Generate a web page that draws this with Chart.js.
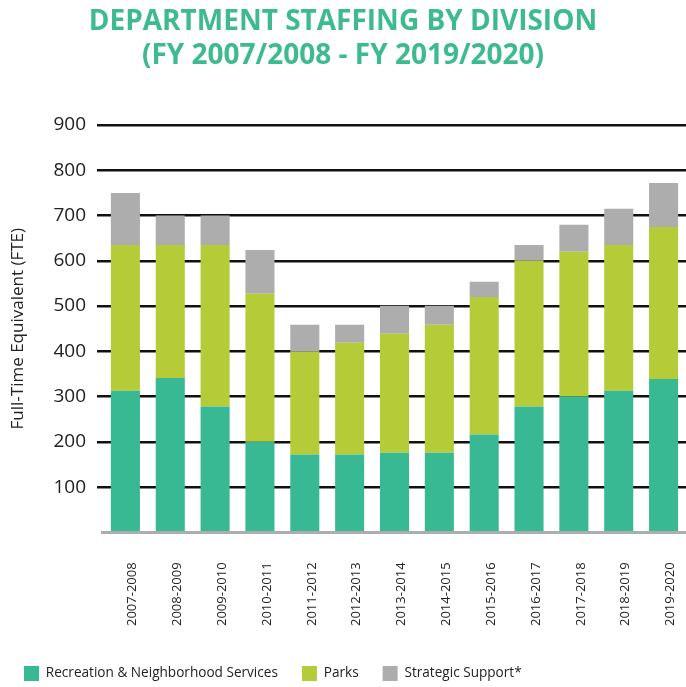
<!DOCTYPE html>
<html>
<head>
<meta charset="utf-8">
<script src="https://cdn.jsdelivr.net/npm/chart.js@4/dist/chart.umd.min.js"></script>
<style>
  html, body { margin: 0; padding: 0; background: #fff; overflow: hidden; }
  #wrap { width: 686px; height: 687px; position: relative; }
</style>
</head>
<body>
<div id="wrap"><canvas id="myChart" width="686" height="687"></canvas></div>
<script>
// Fiscal years
const years = ['2007-2008', '2008-2009', '2009-2010', '2010-2011', '2011-2012', '2012-2013',
    '2013-2014', '2014-2015', '2015-2016', '2016-2017', '2017-2018', '2018-2019', '2019-2020'];

// FTE per division (stacked)
const recreation = [313, 341, 278, 200, 172, 172, 176, 176, 216, 278, 300, 313, 339];
const parks = [322, 294, 357, 327, 227, 247, 263, 283, 304, 322, 320, 322, 336];
const strategic = [115, 65, 65, 97, 60, 40, 62, 42, 34, 35, 60, 80, 97];

const yTicks = [0, 100, 200, 300, 400, 500, 600, 700, 800, 900];

const font = "'Open Sans', 'DejaVu Sans', sans-serif";

const ctx = document.getElementById('myChart').getContext('2d');
const myChart = new Chart(ctx, {
    type: 'bar',
    data: {
        labels: years,
        datasets: [{
            label: 'Recreation & Neighborhood Services',
            data: recreation,
            backgroundColor: '#38b994'
        }, {
            label: 'Parks',
            data: parks,
            backgroundColor: '#b5cc38'
        }, {
            label: 'Strategic Support*',
            data: strategic,
            backgroundColor: '#aeadad'
        }]
    },
    options: {
        responsive: false,
        animation: false,
        layout: { padding: { left: 0, right: 0, top: 6, bottom: -4 } },
        datasets: {
            bar: { categoryPercentage: 0.8, barPercentage: 0.81 }
        },
        scales: {
            x: {
                stacked: true,
                // invisible tick marks keep a gap under the axis line
                grid: { color: 'rgba(0,0,0,0)', drawOnChartArea: false, drawTicks: true, tickLength: 28 },
                border: { color: '#aeadad', width: 3 },
                ticks: {
                    color: '#222',
                    font: { family: font, size: 13 },
                    minRotation: 90,
                    maxRotation: 90,
                    padding: 2,
                    labelOffset: 7
                },
                title: {
                    display: true,
                    text: '',
                    font: { size: 10, lineHeight: 1 },
                    padding: { top: 3, bottom: 1 }
                }
            },
            y: {
                stacked: true,
                min: 0,
                max: 900,
                afterBuildTicks: axis => { axis.ticks = yTicks.map(v => ({ value: v })); },
                grid: {
                    color: c => c.tick && c.tick.value === 0 ? 'rgba(0,0,0,0)' : '#111',
                    lineWidth: 2.5,
                    tickLength: 6,
                    drawTicks: true
                },
                border: { display: false },
                ticks: {
                    color: '#222',
                    font: { family: font, size: 19 },
                    padding: 11,
                    callback: v => v === 0 ? '' : v
                },
                title: {
                    display: true,
                    text: 'Full-Time Equivalent (FTE)',
                    color: '#222',
                    font: { family: font, size: 17 },
                    padding: { top: 8, bottom: 14 }
                }
            }
        },
        plugins: {
            title: {
                display: true,
                text: ['DEPARTMENT STAFFING BY DIVISION', '(FY 2007/2008 - FY 2019/2020)'],
                color: '#3dbb8f',
                font: { family: font, size: 28, weight: 'bold', lineHeight: 1.18 },
                padding: { top: 0, bottom: 53 }
            },
            legend: {
                position: 'bottom',
                align: 'start',
                labels: {
                    color: '#222',
                    font: { family: font, size: 13.6 },
                    boxWidth: 15,
                    boxHeight: 15,
                    padding: 24
                }
            },
            tooltip: { enabled: false }
        }
    }
});
</script>
</body>
</html>
